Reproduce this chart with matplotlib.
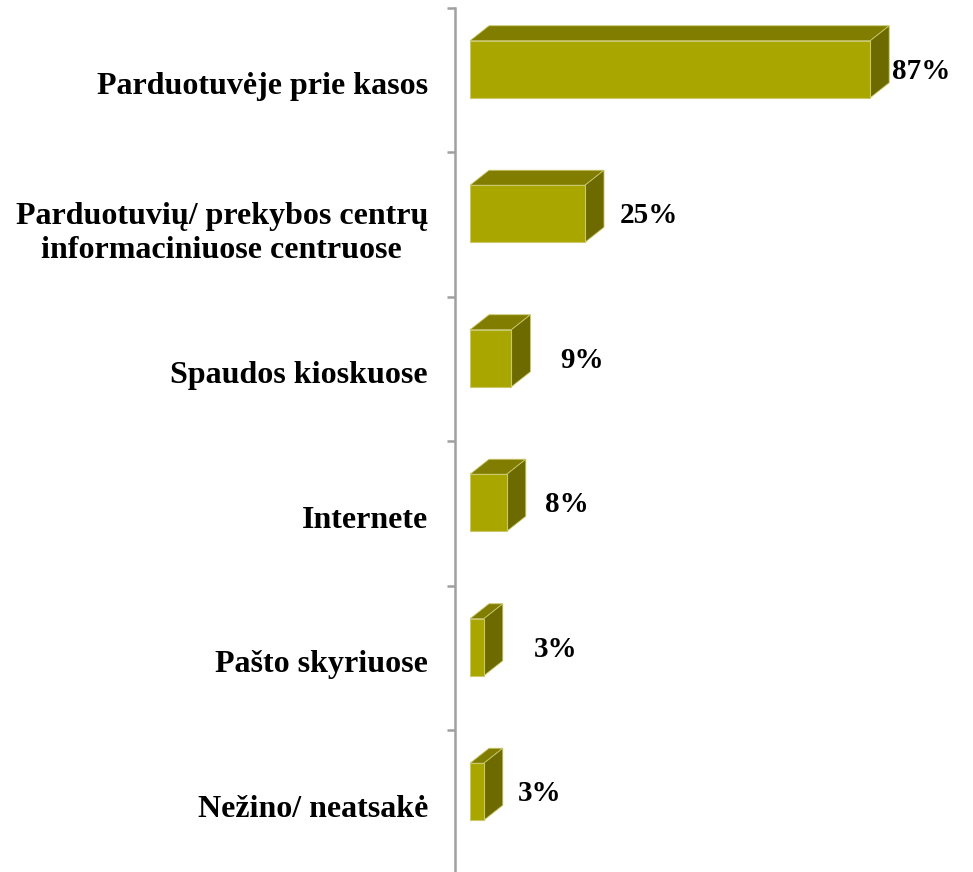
import matplotlib
matplotlib.use("Agg")
import matplotlib.pyplot as plt
from matplotlib.patches import Polygon
import numpy as np

categories = ["Parduotuvėje prie kasos",
              "Parduotuvių/ prekybos centrų\ninformaciniuose centruose",
              "Spaudos kioskuose",
              "Internete",
              "Pašto skyriuose",
              "Nežino/ neatsakė"]
values = [87, 25, 9, 8, 3, 3]
value_labels = ["87%", "25%", "9%", "8%", "3%", "3%"]

# label offsets from bar front end (pixels)
label_pad_px = [22, 35, 49, 38, 50, 34]

W, H, DPI = 973, 872, 100
fig = plt.figure(figsize=(W / DPI, H / DPI), dpi=DPI)
plt.rcParams['font.family'] = ['Liberation Serif', 'DejaVu Serif']

px_per_pct = 4.6
ax_left_px, ax_top_px, ax_bot_px = 455, 8, 875
x0 = -15 / px_per_pct
x1 = x0 + (W - ax_left_px) / px_per_pct
cat_px = (ax_bot_px - ax_top_px) / 6.0
ax = fig.add_axes([ax_left_px / W, 1 - ax_bot_px / H,
                   (W - ax_left_px) / W, (ax_bot_px - ax_top_px) / H])
ax.set_xlim(x0, x1)
ax.set_ylim(6, 0)

front_col = "#A9A600"
top_col = "#807D00"
side_col = "#6D6A00"
edge_col = "#C9C86A"

dx = 19 / px_per_pct
dy = 15 / cat_px
h = 57 / cat_px
shift = 11 / cat_px

for i, v in enumerate(values):
    yc = i + 0.5 - shift
    yt, yb = yc - h / 2, yc + h / 2
    ax.barh([yc], [v], height=h, left=0, color=front_col,
            edgecolor=edge_col, linewidth=0.8, zorder=3)
    top = Polygon([(0, yt), (dx, yt - dy), (v + dx, yt - dy), (v, yt)],
                  closed=True, facecolor=top_col, edgecolor=edge_col,
                  linewidth=0.6, zorder=2)
    side = Polygon([(v, yt), (v + dx, yt - dy), (v + dx, yb - dy), (v, yb)],
                   closed=True, facecolor=side_col, edgecolor=edge_col,
                   linewidth=0.6, zorder=2)
    ax.add_patch(top)
    ax.add_patch(side)
    ax.annotate(value_labels[i], xy=(v, yc + 0.015),
                xytext=(label_pad_px[i] * 72 / DPI, 0), textcoords="offset points",
                ha="left", va="center", fontsize=21, fontweight="bold")

for s in ["top", "right", "bottom"]:
    ax.spines[s].set_visible(False)
ax.spines["left"].set_color("#A0A0A0")
ax.spines["left"].set_linewidth(1.8)
ax.set_xticks([])
ax.set_yticks(np.arange(6) + 0.52)
ax.set_yticklabels(categories, fontsize=23, fontweight="bold",
                   multialignment="center", linespacing=1.22)
ax.tick_params(axis="y", which="major", length=0, pad=27 * 72 / DPI)
ax.set_yticks(np.arange(7), minor=True)
ax.tick_params(axis="y", which="minor", length=8 * 72 / DPI, width=1.8,
               color="#A0A0A0", direction="out")

fig.savefig("out.png", dpi=DPI)
